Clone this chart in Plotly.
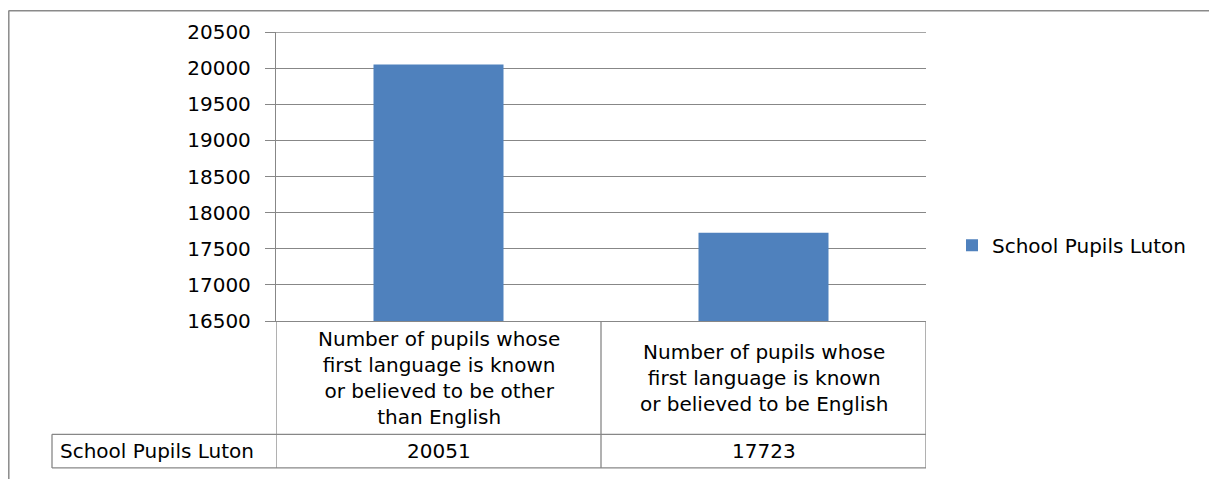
import plotly.graph_objects as go

# ---- data ----
categories = [
    "Number of pupils whose first language is known or believed to be other than English",
    "Number of pupils whose first language is known or believed to be English",
]
category_labels = [
    "Number of pupils whose<br>first language is known<br>or believed to be other<br>than English",
    "Number of pupils whose<br>first language is known<br>or believed to be English",
]
series_name = "School Pupils Luton"
values = [20051, 17723]
y_ticks = [16500, 17000, 17500, 18000, 18500, 19000, 19500, 20000, 20500]

# ---- layout geometry (page pixels; the page body adds an 8px offset) ----
OFF = 8
PAGE_W, PAGE_H = 1217, 479
W, H = PAGE_W - OFF, PAGE_H - OFF
PL, PR = 276 - OFF, 926 - OFF          # plot area left/right
PT, PB = 29.5 - OFF, 321.5 - OFF       # plot area top/bottom
HDR_BOT = 436 - OFF                    # header row bottom
ROW_BOT = 470 - OFF                    # data row bottom
TBL_LEFT = 52 - OFF                    # table left edge

def px_x(p):
    return (p - PL) / (PR - PL)

def px_y(p):
    return (PB - p) / (PB - PT)

FONT = "DejaVu Sans"
FS = 20
GRID = "#878787"
TXT = "#000000"

fig = go.Figure()
fig.add_trace(go.Bar(
    x=categories, y=values, name=series_name,
    marker=dict(color="#4F81BD", line=dict(width=0)),
    width=0.4,
))

shapes = []
line = dict(color=GRID, width=1.3)
# horizontal table lines
shapes.append(dict(type="line", xref="paper", yref="paper",
                   x0=px_x(TBL_LEFT), x1=1, y0=px_y(HDR_BOT), y1=px_y(HDR_BOT), line=line))
shapes.append(dict(type="line", xref="paper", yref="paper",
                   x0=px_x(TBL_LEFT), x1=1, y0=px_y(ROW_BOT), y1=px_y(ROW_BOT), line=line))
# vertical lines of the table
shapes.append(dict(type="line", xref="paper", yref="paper",
                   x0=px_x(TBL_LEFT), x1=px_x(TBL_LEFT), y0=px_y(HDR_BOT), y1=px_y(ROW_BOT), line=line))
for xv in [-0.5, 0.5, 1.5]:
    shapes.append(dict(type="line", xref="x", yref="paper",
                       x0=xv, x1=xv, y0=0, y1=px_y(ROW_BOT), line=line))
# top gridline (plotly drops the grid line at the range edge)
shapes.append(dict(type="line", xref="paper", yref="y",
                   x0=0, x1=1, y0=y_ticks[-1], y1=y_ticks[-1], line=line))
# outer chart border (top and left)
border = dict(color="#8a8a8a", width=1.5)
shapes.append(dict(type="line", xref="paper", yref="paper",
                   x0=px_x(0.5), x1=px_x(W + 10), y0=px_y(0), y1=px_y(0), line=border))
shapes.append(dict(type="line", xref="paper", yref="paper",
                   x0=px_x(0.8), x1=px_x(0.8), y0=px_y(0), y1=px_y(H + 10), line=border))

annotations = []
hdr_mid = px_y((PB + HDR_BOT) / 2)
row_mid = px_y((HDR_BOT + ROW_BOT) / 2)
for cat, lab, v in zip(categories, category_labels, values):
    annotations.append(dict(x=cat, xref="x", y=hdr_mid, yref="paper", text=lab,
                            showarrow=False, align="center", xanchor="center", yanchor="middle",
                            font=dict(family=FONT, size=FS, color=TXT)))
    annotations.append(dict(x=cat, xref="x", y=row_mid, yref="paper", text=str(v),
                            showarrow=False, xanchor="center", yanchor="middle",
                            font=dict(family=FONT, size=FS, color=TXT)))
annotations.append(dict(x=px_x(TBL_LEFT + 6), xref="paper", y=row_mid, yref="paper",
                        text=series_name, showarrow=False, xanchor="left", yanchor="middle",
                        font=dict(family=FONT, size=FS, color=TXT)))

fig.update_layout(
    width=W, height=H,
    margin=dict(l=PL, r=W - PR, t=PT, b=H - PB, pad=0),
    paper_bgcolor="white", plot_bgcolor="white",
    font=dict(family=FONT, size=FS, color=TXT),
    showlegend=True,
    legend=dict(x=px_x(952 - OFF), xanchor="left", y=px_y(245 - OFF), yanchor="middle",
                font=dict(family=FONT, size=FS, color=TXT),
                bgcolor="rgba(0,0,0,0)", borderwidth=0),
    xaxis=dict(range=[-0.5, 1.5], showticklabels=False, showgrid=False,
               showline=True, linecolor=GRID, linewidth=1.3, ticks="", zeroline=False),
    yaxis=dict(range=[16500, 20500], tickvals=y_ticks, ticktext=[str(t) for t in y_ticks],
               showgrid=True, gridcolor=GRID, gridwidth=1.3,
               showline=True, linecolor=GRID, linewidth=1.3,
               ticks="outside", ticklen=10, tickcolor=GRID, tickwidth=1.3,
               ticklabelstandoff=10, zeroline=False,
               tickfont=dict(family=FONT, size=FS, color=TXT)),
    shapes=shapes,
    annotations=annotations,
    bargap=0.6,
)

fig.write_html("out.html")
